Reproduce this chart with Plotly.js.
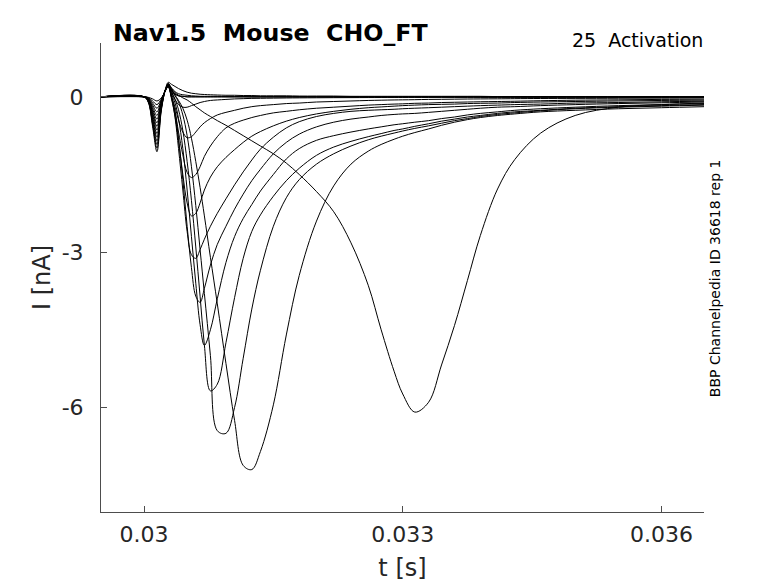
<!DOCTYPE html>
<html>
<head>
<meta charset="utf-8">
<script src="https://cdn.plot.ly/plotly-3.0.1.min.js"></script>
<style>body{margin:0;background:#fff}</style>
</head>
<body>
<div id="graficoCorrentes"></div>
<script>
// time grid [s], shared by all sweeps
const tGrid = [0.0295, 0.03, 0.03005, 0.0301, 0.03015, 0.0302, 0.03025, 0.03028,
  0.03032, 0.03036, 0.0304, 0.03045, 0.0305, 0.03055, 0.0306, 0.03065, 0.0307,
  0.03077, 0.03085, 0.03095, 0.03105, 0.03115, 0.03125, 0.03135, 0.0315, 0.03165, 0.0318,
  0.032, 0.0322, 0.0324, 0.0326, 0.03275, 0.0329, 0.033, 0.03314, 0.0333, 0.03345,
  0.0336, 0.03375, 0.0339, 0.0341, 0.0343, 0.0346, 0.035, 0.0355, 0.036, 0.0365];

// current sweeps [nA]
const sweep01 = [0, 0, -0.01, -0.04, -0.08, -0.02, 0.12, 0.2,
  0.13, 0.05, 0.02, 0.01, 0, 0, 0, 0, 0,
  0, 0, 0, 0, 0, 0, 0, 0, 0, 0,
  0, 0, 0, 0, 0, 0, 0, 0, 0, 0,
  0, 0, 0, 0, 0, 0, 0, 0, 0, 0];
const sweep02 = [0, 0, -0.02, -0.08, -0.15, -0.04, 0.13, 0.22,
  0.14, 0.06, 0.02, 0.01, 0, 0, 0, 0, 0,
  0, 0, 0, 0, 0, 0, 0, 0, 0, 0,
  0, 0, 0, 0, 0, 0, 0, 0, 0, 0,
  0, 0, 0, 0, 0, 0, 0, 0, 0, 0];
const sweep03 = [0, 0, -0.02, -0.12, -0.22, -0.06, 0.14, 0.24,
  0.16, 0.08, 0.03, -0.02, -0.06, -0.12, -0.19, -0.25, -0.31,
  -0.38, -0.46, -0.55, -0.65, -0.75, -0.85, -0.95, -1.1, -1.28, -1.5,
  -1.83, -2.22, -2.82, -3.64, -4.5, -5.3, -5.74, -6.09, -5.9, -5.18,
  -4.42, -3.55, -2.68, -1.78, -1.21, -0.7, -0.36, -0.2, -0.15, -0.12];
const sweep04 = [0, 0, -0.03, -0.16, -0.29, -0.07, 0.14, 0.25,
  0.13, 0.03, -0.07, -0.22, -0.45, -0.8, -1.25, -1.75, -2.3,
  -3.1, -4.0, -5.15, -6.25, -7.12, -7.2, -6.85, -5.95, -4.6, -3.45,
  -2.4, -1.72, -1.3, -1.05, -0.92, -0.82, -0.76, -0.69, -0.62, -0.55,
  -0.49, -0.44, -0.4, -0.36, -0.33, -0.29, -0.26, -0.23, -0.21, -0.19];
const sweep05 = [0, 0, -0.04, -0.2, -0.36, -0.09, 0.14, 0.25,
  0.12, 0.02, -0.1, -0.35, -0.75, -1.35, -2.1, -2.95, -3.8,
  -5.0, -6.45, -6.5, -6.0, -5.05, -4.1, -3.35, -2.5, -1.95, -1.6,
  -1.3, -1.1, -0.95, -0.83, -0.76, -0.7, -0.66, -0.61, -0.56, -0.51,
  -0.46, -0.42, -0.38, -0.34, -0.31, -0.27, -0.23, -0.2, -0.18, -0.16];
const sweep06 = [0, 0, -0.04, -0.24, -0.43, -0.11, 0.14, 0.24,
  0.1, -0.05, -0.25, -0.65, -1.25, -2.0, -2.9, -3.85, -4.8,
  -5.68, -5.55, -4.75, -3.88, -3.12, -2.6, -2.28, -1.92, -1.62, -1.38,
  -1.13, -0.97, -0.86, -0.77, -0.71, -0.65, -0.62, -0.57, -0.52, -0.47,
  -0.43, -0.39, -0.36, -0.32, -0.29, -0.26, -0.22, -0.19, -0.17, -0.15];
const sweep07 = [0, 0, -0.05, -0.28, -0.5, -0.13, 0.14, 0.23,
  0.05, -0.12, -0.42, -1.0, -1.8, -2.7, -3.6, -4.4, -4.8,
  -4.5, -3.9, -3.2, -2.7, -2.35, -2.08, -1.82, -1.5, -1.2, -1.0,
  -0.84, -0.75, -0.68, -0.62, -0.58, -0.54, -0.52, -0.49, -0.46, -0.42,
  -0.39, -0.35, -0.32, -0.29, -0.26, -0.23, -0.2, -0.17, -0.15, -0.13];
const sweep08 = [0, 0, -0.06, -0.31, -0.57, -0.14, 0.14, 0.22,
  0.0, -0.3, -0.8, -1.6, -2.5, -3.3, -3.85, -3.97, -3.7,
  -3.25, -2.85, -2.5, -2.17, -1.88, -1.62, -1.4, -1.1, -0.88, -0.72,
  -0.58, -0.49, -0.43, -0.39, -0.36, -0.34, -0.33, -0.32, -0.3, -0.28,
  -0.26, -0.24, -0.22, -0.2, -0.19, -0.17, -0.15, -0.13, -0.115, -0.1];
const sweep09 = [0, 0, -0.06, -0.35, -0.64, -0.16, 0.14, 0.21,
  -0.02, -0.4, -1.0, -1.8, -2.6, -3.05, -3.12, -2.95, -2.75,
  -2.5, -2.25, -1.97, -1.7, -1.45, -1.22, -1.01, -0.78, -0.6, -0.48,
  -0.38, -0.32, -0.28, -0.26, -0.25, -0.24, -0.23, -0.22, -0.21, -0.2,
  -0.19, -0.18, -0.17, -0.16, -0.15, -0.14, -0.12, -0.11, -0.095, -0.085];
const sweep10 = [0, 0, -0.07, -0.39, -0.71, -0.18, 0.14, 0.2,
  -0.05, -0.38, -0.85, -1.5, -2.05, -2.3, -2.25, -2.05, -1.8,
  -1.55, -1.35, -1.17, -1.02, -0.88, -0.76, -0.67, -0.56, -0.47, -0.4,
  -0.33, -0.28, -0.24, -0.21, -0.195, -0.18, -0.17, -0.16, -0.15, -0.145,
  -0.14, -0.13, -0.125, -0.12, -0.11, -0.1, -0.09, -0.08, -0.07, -0.065];
const sweep11 = [0, 0, -0.08, -0.43, -0.78, -0.2, 0.14, 0.2,
  -0.02, -0.28, -0.68, -1.12, -1.46, -1.56, -1.5, -1.35, -1.15,
  -0.95, -0.77, -0.6, -0.51, -0.45, -0.4, -0.36, -0.31, -0.28, -0.25,
  -0.22, -0.2, -0.18, -0.16, -0.15, -0.14, -0.135, -0.125, -0.12, -0.11,
  -0.105, -0.1, -0.095, -0.09, -0.085, -0.075, -0.065, -0.058, -0.05, -0.045];
const sweep12 = [0, 0, -0.09, -0.47, -0.85, -0.21, 0.14, 0.2,
  0.0, -0.2, -0.45, -0.68, -0.79, -0.77, -0.68, -0.58, -0.5,
  -0.42, -0.35, -0.3, -0.26, -0.22, -0.19, -0.17, -0.15, -0.13, -0.12,
  -0.1, -0.09, -0.08, -0.07, -0.065, -0.06, -0.058, -0.055, -0.05, -0.048,
  -0.045, -0.042, -0.04, -0.038, -0.035, -0.032, -0.03, -0.027, -0.025, -0.022];
const sweep13 = [0, 0, -0.09, -0.51, -0.92, -0.23, 0.14, 0.22,
  0.08, -0.05, -0.15, -0.2, -0.2, -0.17, -0.14, -0.11, -0.09,
  -0.07, -0.06, -0.05, -0.04, -0.035, -0.03, -0.028, -0.025, -0.022, -0.02,
  -0.018, -0.016, -0.015, -0.014, -0.013, -0.012, -0.012, -0.011, -0.011, -0.01,
  -0.01, -0.01, -0.01, -0.01, -0.01, -0.01, -0.01, -0.01, -0.01, -0.01];
const sweep14 = [0, 0, -0.1, -0.54, -0.99, -0.25, 0.15, 0.26,
  0.17, 0.1, 0.06, 0.04, 0.03, 0.02, 0.015, 0.01, 0.01,
  0.01, 0.01, 0.005, 0.005, 0.005, 0, 0, 0, 0, 0,
  0, 0, 0, 0, 0, 0, 0, 0, 0, 0,
  0, 0, 0, 0, 0, 0, 0, 0, 0, 0];
const sweep15 = [0, 0, -0.11, -0.58, -1.06, -0.27, 0.16, 0.28,
  0.24, 0.2, 0.16, 0.12, 0.09, 0.07, 0.06, 0.05, 0.045,
  0.04, 0.035, 0.03, 0.03, 0.025, 0.025, 0.02, 0.02, 0.02, 0.015,
  0.015, 0.015, 0.01, 0.01, 0.01, 0.01, 0.01, 0.01, 0.01, 0.01,
  0.01, 0.01, 0.01, 0.005, 0.005, 0.005, 0.005, 0, 0, 0];

const sweeps = [sweep01, sweep02, sweep03, sweep04, sweep05, sweep06, sweep07, sweep08,
  sweep09, sweep10, sweep11, sweep12, sweep13, sweep14, sweep15];

const xTicks = [0.03, 0.033, 0.036];
const xTickText = ['0.03', '0.033', '0.036'];
const yTicks = [0, -3, -6];
const yTickText = ['0', '-3', '-6'];

const GraficoCorrentes = document.getElementById('graficoCorrentes');

var data = sweeps.map(function (y) {
  return {
    x: tGrid,
    y: y,
    type: 'scatter',
    mode: 'lines',
    line: { color: '#000000', width: 1, shape: 'spline', smoothing: 1 },
    hoverinfo: 'skip'
  };
});

var eixoCor = '#4d4d4d';
var textoCor = '#262626';

var layout = {
  width: 778,
  height: 583,
  autosize: false,
  showlegend: false,
  paper_bgcolor: '#ffffff',
  plot_bgcolor: '#ffffff',
  font: { family: 'DejaVu Sans', color: textoCor },
  margin: { l: 101, r: 74, t: 43, b: 71, pad: 0 },
  xaxis: {
    range: [0.029501, 0.036494],
    tickvals: xTicks,
    ticktext: xTickText,
    ticks: 'inside', ticklen: 6, tickcolor: eixoCor, tickwidth: 1,
    showline: true, linecolor: eixoCor, linewidth: 1,
    showgrid: false, zeroline: false,
    tickfont: { size: 22, color: textoCor },
    ticklabelstandoff: 3,
    title: { text: 't [s]', font: { size: 24, color: textoCor }, standoff: 12 }
  },
  yaxis: {
    range: [-8.02, 1.04],
    tickvals: yTicks,
    ticktext: yTickText,
    ticks: 'inside', ticklen: 6, tickcolor: eixoCor, tickwidth: 1,
    showline: true, linecolor: eixoCor, linewidth: 1,
    showgrid: false, zeroline: false,
    tickfont: { size: 22, color: textoCor },
    ticklabelstandoff: 12,
    title: { text: 'I [nA]', font: { size: 24, color: textoCor }, standoff: 4 }
  },
  annotations: [
    {
      text: '<b>Nav1.5\u00a0\u00a0Mouse\u00a0\u00a0CHO_FT</b>',
      xref: 'paper', yref: 'paper', x: 0.0165, y: 1.0207,
      xanchor: 'left', yanchor: 'middle', showarrow: false,
      font: { size: 23.7, color: '#000000' }
    },
    {
      text: '25\u00a0\u00a0Activation',
      xref: 'paper', yref: 'paper', x: 1.0015, y: 1.0057,
      xanchor: 'right', yanchor: 'middle', showarrow: false,
      font: { size: 19, color: '#000000' }
    },
    {
      text: 'BBP Channelpedia ID 36618 rep 1',
      xref: 'paper', yref: 'paper', x: 1.0194, y: 0.498,
      xanchor: 'center', yanchor: 'middle', showarrow: false,
      textangle: -90,
      font: { size: 14, color: '#000000' }
    }
  ]
};

Plotly.newPlot(GraficoCorrentes, data, layout, { displayModeBar: false, staticPlot: true });
</script>
</body>
</html>
